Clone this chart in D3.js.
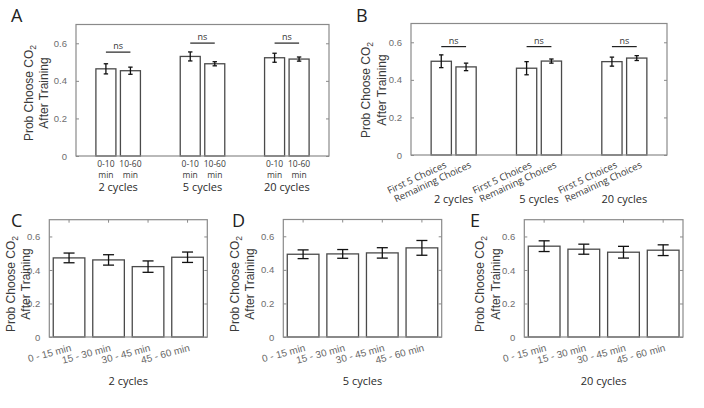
<!DOCTYPE html>
<html lang="en">
<head>
<meta charset="UTF-8">
<title>Prob Choose CO2 After Training</title>
<script src="https://d3js.org/d3.v7.min.js"></script>
<style>
    body { margin: 0; background: #fff; }
    svg { display: block; }
    .ylab { font-family: "Liberation Sans", Arial, sans-serif; font-size: 12px; fill: #3a3a3a; }
    .tick text { font-family: "Liberation Sans", Arial, sans-serif; font-size: 9.5px; fill: #6e6e6e; }
    .letter { font-family: "Open Sans", sans-serif; font-size: 18px; fill: #222; }
    .grp { font-family: "Open Sans", sans-serif; font-size: 11px; fill: #2a2a2a; }
    .xlab { font-family: "Open Sans", sans-serif; font-size: 8.5px; fill: #3a3a3a; }
    .xlabr { font-family: "Open Sans", sans-serif; font-size: 9.5px; fill: #3a3a3a; }
    .xlab2 { font-family: "Liberation Sans", Arial, sans-serif; font-size: 10px; fill: #666; }
    .ns { font-family: "Open Sans", sans-serif; font-size: 9px; fill: #333; }
</style>
</head>
<body>
<svg width="704" height="408"></svg>
<script>
    // y axis shared by all panels
    const yTicks = [0, 0.2, 0.4, 0.6];

    // panels A and B: grouped by training cycles
    const cycles = ["2 cycles", "5 cycles", "20 cycles"];
    const ticksA = ["0-10", "10-60"];
    const meanA = [[0.464, 0.454], [0.530, 0.491], [0.523, 0.516]];
    const errA = [[0.027, 0.019], [0.024, 0.011], [0.024, 0.011]];
    const nsA = [0.553, 0.601, 0.601];

    const ticksB = ["First 5 Choices", "Remaining Choices"];
    const meanB = [[0.499, 0.469], [0.462, 0.500], [0.497, 0.516]];
    const errB = [[0.034, 0.020], [0.035, 0.011], [0.024, 0.013]];
    const nsB = [0.577, 0.577, 0.577];

    // panels C, D, E: time bins
    const bins = ["0 - 15 min", "15 - 30 min", "30 - 45 min", "45 - 60 min"];
    const meanC = [0.472, 0.460, 0.420, 0.476];
    const errC = [0.029, 0.031, 0.034, 0.031];
    const meanD = [0.493, 0.495, 0.501, 0.531];
    const errD = [0.026, 0.026, 0.031, 0.044];
    const meanE = [0.542, 0.524, 0.506, 0.518];
    const errE = [0.032, 0.030, 0.035, 0.032];

    const svg = d3.select("svg");
    const boxColor = "#8a8a8a";
    const barStroke = "#4a4a4a";

    function frame(box) {
        const y = d3.scaleLinear().domain([0, 0.7]).range([box.bottom, box.top]);
        const g = svg.append("g");
        g.append("g")
            .attr("transform", `translate(${box.left},0)`)
            .call(d3.axisLeft(y).tickValues(yTicks).tickSize(-3).tickPadding(9)
                .tickFormat(d => d === 0 ? "0" : d3.format(".1f")(d)))
            .call(a => a.select(".domain").remove())
            .call(a => a.selectAll("line").attr("stroke", boxColor));
        g.append("g")
            .attr("transform", `translate(${box.right},0)`)
            .call(d3.axisRight(y).tickValues(yTicks).tickSize(-3).tickFormat(""))
            .call(a => a.select(".domain").remove())
            .call(a => a.selectAll("line").attr("stroke", boxColor));
        return { y, g };
    }

    function drawBox(g, box) {
        g.append("rect")
            .attr("x", box.left).attr("y", box.top)
            .attr("width", box.right - box.left).attr("height", box.bottom - box.top)
            .attr("fill", "none").attr("stroke", boxColor).attr("stroke-width", 1.2);
    }

    function yLabel(x1, x2, yc) {
        const t1 = svg.append("text").attr("class", "ylab")
            .attr("transform", `translate(${x1},${yc}) rotate(-90)`)
            .attr("text-anchor", "middle").attr("dy", "0.35em");
        t1.append("tspan").text("Prob Choose CO");
        t1.append("tspan").attr("font-size", "8.5px").attr("dy", "3").text("2");
        svg.append("text").attr("class", "ylab")
            .attr("transform", `translate(${x2},${yc}) rotate(-90)`)
            .attr("text-anchor", "middle").attr("dy", "0.35em")
            .text("After Training");
    }

    function letter(s, x, y) {
        svg.append("text").attr("class", "letter").attr("x", x).attr("y", y).text(s);
    }

    function errorBar(g, cx, y, m, e, cap) {
        const c = "#111";
        g.append("line").attr("x1", cx).attr("x2", cx)
            .attr("y1", y(m - e)).attr("y2", y(m + e)).attr("stroke", c).attr("stroke-width", 1.3);
        [m - e, m + e].forEach(v => {
            g.append("line").attr("x1", cx - cap).attr("x2", cx + cap)
                .attr("y1", y(v)).attr("y2", y(v)).attr("stroke", c).attr("stroke-width", 1.3);
        });
    }

    // grouped panel (A, B)
    function groupedPanel(box, ticks, mean, err, ns, rotated, grpY) {
        const { y, g } = frame(box);
        const x = d3.scaleBand().domain(cycles).range([box.left, box.right]);
        const step = x.step();
        const sub = d3.scaleBand().domain(ticks)
            .range([-0.264 * step, 0.264 * step]).paddingInner(0.184);

        cycles.forEach((c, i) => {
            const gc = x(c) + x.bandwidth() / 2;
            ticks.forEach((t, j) => {
                const bx = gc + sub(t);
                g.append("rect")
                    .attr("x", bx).attr("y", y(mean[i][j]))
                    .attr("width", sub.bandwidth()).attr("height", y(0) - y(mean[i][j]))
                    .attr("fill", "#fff").attr("stroke", barStroke).attr("stroke-width", 1.3);
                const cx = bx + sub.bandwidth() / 2;
                errorBar(g, cx, y, mean[i][j], err[i][j], 2.2);
                if (rotated) {
                    g.append("text").attr("class", "xlabr")
                        .attr("transform", `translate(${cx + 3},${box.bottom + 6}) rotate(-25)`)
                        .attr("text-anchor", "end").attr("dy", "0.7em").text(t);
                } else {
                    const tx = g.append("text").attr("class", "xlab")
                        .attr("text-anchor", "middle");
                    tx.append("tspan").attr("x", cx).attr("y", box.bottom + 11).text(t);
                    tx.append("tspan").attr("x", cx).attr("y", box.bottom + 22).text("min");
                }
            });
            // ns bracket between the two bar centres
            const xa = gc + sub(ticks[0]) + sub.bandwidth() / 2;
            const xb = gc + sub(ticks[1]) + sub.bandwidth() / 2;
            g.append("line").attr("x1", xa).attr("x2", xb)
                .attr("y1", y(ns[i])).attr("y2", y(ns[i]))
                .attr("stroke", "#222").attr("stroke-width", 1.2);
            g.append("text").attr("class", "ns").attr("text-anchor", "middle")
                .attr("x", (xa + xb) / 2).attr("y", y(ns[i]) - 3).text("ns");
            g.append("text").attr("class", "grp").attr("text-anchor", "middle")
                .attr("x", gc).attr("y", grpY).text(c);
        });
        drawBox(g, box);
    }

    // time-bin panel (C, D, E)
    function binPanel(box, mean, err, label) {
        const { y, g } = frame(box);
        const x = d3.scaleBand().domain(bins).range([box.left, box.right])
            .paddingInner(0.2).paddingOuter(0.1);
        bins.forEach((b, i) => {
            const cx = x(b) + x.bandwidth() / 2;
            // inward ticks top and bottom
            [[box.top, box.top + 3], [box.bottom, box.bottom - 3]].forEach(([a, c]) => {
                g.append("line").attr("x1", cx).attr("x2", cx).attr("y1", a).attr("y2", c)
                    .attr("stroke", boxColor);
            });
            g.append("rect")
                .attr("x", x(b)).attr("y", y(mean[i]))
                .attr("width", x.bandwidth()).attr("height", y(0) - y(mean[i]))
                .attr("fill", "#fff").attr("stroke", barStroke).attr("stroke-width", 1.3);
            errorBar(g, cx, y, mean[i], err[i], 5.5);
            g.append("text").attr("class", "xlab2")
                .attr("transform", `translate(${cx + 1},${box.bottom + 7}) rotate(-15)`)
                .attr("text-anchor", "end").attr("dy", "0.7em").text(b);
        });
        g.append("text").attr("class", "grp").attr("text-anchor", "middle")
            .attr("x", (box.left + box.right) / 2).attr("y", box.bottom + 48).text(label);
        drawBox(g, box);
    }

    groupedPanel({ left: 76, right: 329, top: 24.5, bottom: 156 }, ticksA, meanA, errA, nsA, false, 191);
    groupedPanel({ left: 411, right: 667, top: 23.5, bottom: 155 }, ticksB, meanB, errB, nsB, true, 203);
    binPanel({ left: 49.3, right: 207.3, top: 219.7, bottom: 337 }, meanC, errC, "2 cycles");
    binPanel({ left: 283.3, right: 441.7, top: 219.5, bottom: 337 }, meanD, errD, "5 cycles");
    binPanel({ left: 524.3, right: 683, top: 219.7, bottom: 337 }, meanE, errE, "20 cycles");

    letter("A", 11, 22);
    letter("B", 356, 22);
    letter("C", 11, 227);
    letter("D", 232, 227);
    letter("E", 470, 227);

    yLabel(29, 44, 93);
    yLabel(366, 381.7, 90);
    yLabel(10.5, 26, 284);
    yLabel(235, 250, 284);
    yLabel(480, 496, 284);
</script>
</body>
</html>
